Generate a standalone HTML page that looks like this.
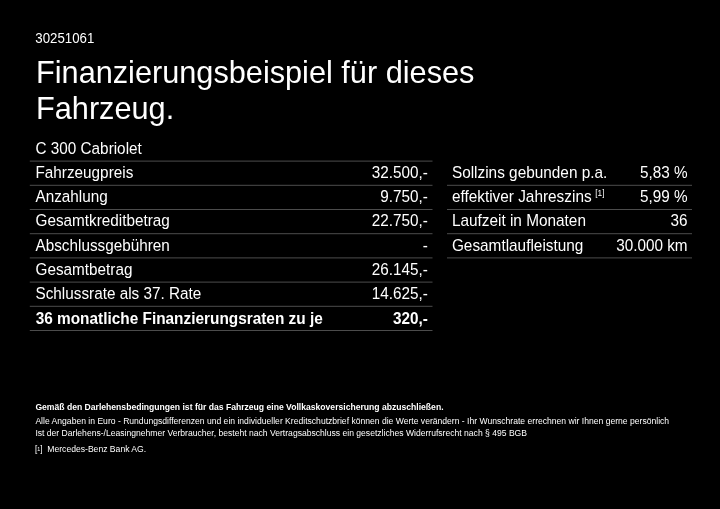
<!DOCTYPE html>
<html><head><meta charset="utf-8">
<style>
html,body{margin:0;padding:0;background:#000;}
body{width:720px;height:509px;position:relative;overflow:hidden;color:#fff;font-family:"Liberation Sans",Arial,sans-serif;}
.abs{position:absolute;white-space:nowrap;}
#id{left:35.3px;top:30.5px;font-size:13.25px;line-height:16px;transform:scaleY(1.05);transform-origin:0 12.6px;}
.h1{left:36.0px;font-size:30.7px;line-height:35.8px;}
svg{position:absolute;left:0;top:0;}
.row{position:absolute;left:30px;height:20px;font-size:15.3px;line-height:20px;}
.row .l{position:absolute;left:5.5px;top:0;white-space:nowrap;transform:scaleY(1.05);transform-origin:0 15.3px;}
.row .r{position:absolute;right:4.7px;top:0;white-space:nowrap;transform:scaleY(1.05);transform-origin:0 15.3px;}
.L{width:402.5px;}
.R{left:447px;width:245px;}
.R .l{left:4.9px;font-size:15.37px;}
.R .r{right:4.4px;}
.b{font-weight:bold;}
.row.b .l{font-size:15.38px;left:5.7px;}
.row sup{font-size:8.3px;line-height:1;vertical-align:baseline;position:relative;top:-5.9px;margin-left:3.7px;}
.f{left:35.4px;font-size:8.6px;line-height:12px;}
.f .br{font-size:8.2px;}
.f .one{font-size:5.4px;position:relative;top:-1.2px;}
</style></head><body>
<svg width="720" height="509" viewBox="0 0 720 509" fill="#4c4c4c">
<rect x="29.8" y="160.60" width="402.7" height="1"/>
<rect x="29.8" y="184.80" width="402.7" height="1"/>
<rect x="447" y="184.80" width="245" height="1"/>
<rect x="29.8" y="209.00" width="402.7" height="1"/>
<rect x="447" y="209.00" width="245" height="1"/>
<rect x="29.8" y="233.20" width="402.7" height="1"/>
<rect x="447" y="233.20" width="245" height="1"/>
<rect x="29.8" y="257.40" width="402.7" height="1"/>
<rect x="447" y="257.40" width="245" height="1"/>
<rect x="29.8" y="281.60" width="402.7" height="1"/>
<rect x="29.8" y="305.80" width="402.7" height="1"/>
<rect x="29.8" y="330.00" width="402.7" height="1"/>
</svg>
<div class="abs" id="id">30251061</div>
<div class="abs h1" style="top:54.7px">Finanzierungsbeispiel für dieses</div>
<div class="abs h1" style="top:90.6px">Fahrzeug.</div>

<div class="row L" style="top:139.00px"><span class="l">C 300 Cabriolet</span></div>
<div class="row L" style="top:163.00px"><span class="l">Fahrzeugpreis</span><span class="r">32.500,-</span></div>
<div class="row L" style="top:187.00px"><span class="l">Anzahlung</span><span class="r">9.750,-</span></div>
<div class="row L" style="top:211.00px"><span class="l">Gesamtkreditbetrag</span><span class="r">22.750,-</span></div>
<div class="row L" style="top:236.00px"><span class="l">Abschlussgebühren</span><span class="r">-</span></div>
<div class="row L" style="top:260.00px"><span class="l">Gesamtbetrag</span><span class="r">26.145,-</span></div>
<div class="row L" style="top:284.00px"><span class="l">Schlussrate als 37. Rate</span><span class="r">14.625,-</span></div>
<div class="row L b" style="top:309.00px"><span class="l">36 monatliche Finanzierungsraten zu je</span><span class="r">320,-</span></div>
<div class="row R" style="top:163.00px"><span class="l">Sollzins gebunden p.a.</span><span class="r">5,83 %</span></div>
<div class="row R" style="top:187.00px"><span class="l">effektiver Jahreszins<sup>[1]</sup></span><span class="r">5,99 %</span></div>
<div class="row R" style="top:211.00px"><span class="l">Laufzeit in Monaten</span><span class="r">36</span></div>
<div class="row R" style="top:236.00px"><span class="l">Gesamtlaufleistung</span><span class="r">30.000 km</span></div>

<div class="abs f b" style="top:401px">Gemäß den Darlehensbedingungen ist für das Fahrzeug eine Vollkaskoversicherung abzuschließen.</div>
<div class="abs f" style="top:415px;font-size:8.58px">Alle Angaben in Euro - Rundungsdifferenzen und ein individueller Kreditschutzbrief können die Werte verändern - Ihr Wunschrate errechnen wir Ihnen gerne persönlich</div>
<div class="abs f" style="top:427px;font-size:8.58px">Ist der Darlehens-/Leasingnehmer Verbraucher, besteht nach Vertragsabschluss ein gesetzliches Widerrufsrecht nach § 495 BGB</div>
<div class="abs f" style="top:443px;left:34.95px"><span class="br">[</span><span class="one">1</span><span class="br">]</span><span style="display:inline-block;width:4.8px"></span>Mercedes-Benz Bank AG.</div>
</body></html>
